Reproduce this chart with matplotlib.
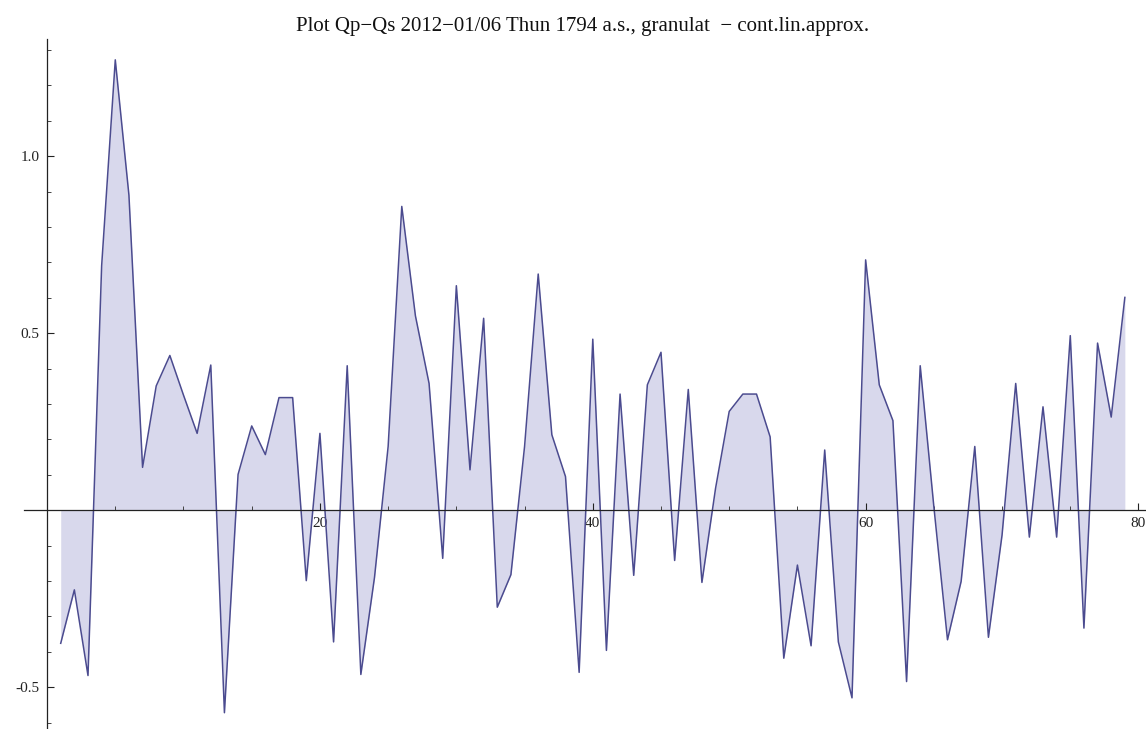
import matplotlib
matplotlib.use("Agg")
import matplotlib.pyplot as plt
from matplotlib.ticker import FixedLocator, FuncFormatter

# Data (index 1..79)
x_vals = list(range(1, 80))
y_vals = [
    -0.376, -0.225, -0.467, 0.69, 1.272, 0.89, 0.121, 0.351, 0.437, 0.325,
    0.217, 0.41, -0.572, 0.101, 0.238, 0.157, 0.318, 0.318, -0.199, 0.217,
    -0.372, 0.408, -0.464, -0.19, 0.18, 0.858, 0.549, 0.358, -0.136, 0.634,
    0.114, 0.542, -0.274, -0.182, 0.18, 0.667, 0.213, 0.095, -0.458, 0.483,
    -0.396, 0.328, -0.184, 0.354, 0.446, -0.142, 0.341, -0.204, 0.062, 0.279,
    0.328, 0.328, 0.207, -0.418, -0.155, -0.383, 0.17, -0.372, -0.53, 0.707,
    0.354, 0.253, -0.484, 0.408, 0.01, -0.366, -0.201, 0.18, -0.359, -0.07,
    0.358, -0.076, 0.292, -0.076, 0.493, -0.333, 0.472, 0.263, 0.601,
]
y_major = [-0.5, 0.5, 1.0]
x_major = [20, 40, 60, 80]
title = "Plot Qp\u2212Qs 2012\u221201/06 Thun 1794 a.s., granulat  \u2212 cont.lin.approx."

plt.rcParams['font.family'] = ['Liberation Serif', 'DejaVu Serif']

fig = plt.figure(figsize=(11.46, 7.29), dpi=100)
ax = fig.add_axes([0, 0, 1, 1])
ax.set_xlim(-3.45, 80.55)
ax.set_ylim(-0.618, 1.441)

line_c = '#4b4b8f'
fill_c = '#d8d8ec'
ax.fill_between(x_vals, y_vals, 0, color=fill_c, linewidth=0)
ax.plot(x_vals, y_vals, color=line_c, linewidth=1.1)

for s in ['top', 'right']:
    ax.spines[s].set_visible(False)
ax.spines['left'].set_position(('data', 0))
ax.spines['bottom'].set_position(('data', 0))
ax.spines['left'].set_bounds(-0.62, 1.33)
ax.spines['bottom'].set_bounds(-1.66, 80.55)
for s in ['left', 'bottom']:
    ax.spines[s].set_color('#222222')
    ax.spines[s].set_linewidth(0.9)

ax.yaxis.set_major_locator(FixedLocator(y_major))
ax.yaxis.set_minor_locator(FixedLocator([v / 10 for v in range(-6, 14) if v not in (-5, 0, 5, 10)]))
ax.xaxis.set_major_locator(FixedLocator(x_major))
ax.xaxis.set_minor_locator(FixedLocator([v for v in range(5, 80, 5) if v % 20 != 0]))
ax.yaxis.set_major_formatter(FuncFormatter(lambda v, p: f"{v:.1f}"))
ax.xaxis.set_major_formatter(FuncFormatter(lambda v, p: f"{int(v)}"))

ax.tick_params(axis='both', which='major', direction='in', length=5, width=0.8,
               color='#222222', labelsize=11, labelcolor='#222222')
ax.tick_params(axis='both', which='minor', direction='in', length=3, width=0.7, color='#444444')
ax.tick_params(axis='y', which='major', pad=5.5)
ax.tick_params(axis='x', which='major', pad=5)

fig.text(0.5087, 1 - 31 / 729, title, ha='center', va='baseline', fontsize=15, color='#111111')

fig.savefig('out.png', dpi=100)
